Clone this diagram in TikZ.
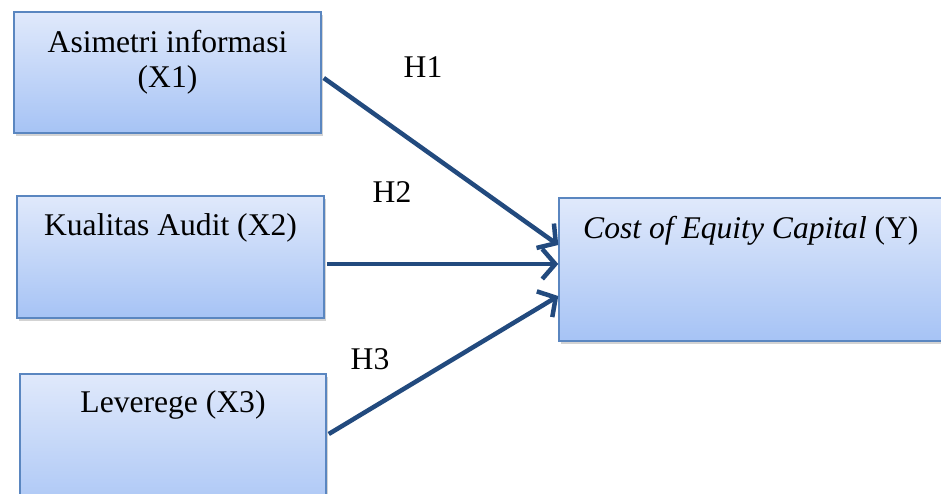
\documentclass[tikz,border=0pt]{standalone}
\usepackage{fontspec}
\setmainfont{Liberation Serif}
\usetikzlibrary{arrows.meta,shadows}
\definecolor{boxtop}{HTML}{E0E9FB}
\definecolor{boxbot}{HTML}{A6C3F5}
\definecolor{boxline}{HTML}{5A86C0}
\definecolor{arr}{HTML}{224A7E}
\tikzset{
  box/.style={draw=boxline, line width=1.5pt, top color=boxtop, bottom color=boxbot,
    drop shadow={opacity=0.35, shadow xshift=2pt, shadow yshift=-3pt}, inner sep=0pt},
  txt/.style={anchor=base, inner sep=0pt, font=\fontsize{31.6}{38}\selectfont},
  link/.style={draw=arr, line width=4.5pt, -{Straight Barb[length=13pt,width=30pt]}}
}
\begin{document}
\begin{tikzpicture}[x=1pt,y=-1pt]
\useasboundingbox (0,0) rectangle (941,494);
\node[box, minimum width=307pt, minimum height=121pt] (x1) at (167.5,72.5) {};
\node[box, minimum width=307pt, minimum height=122pt] (x2) at (170.5,257) {};
\node[box, minimum width=306pt, minimum height=150pt] (x3) at (173,449) {};
\node[box, minimum width=400pt, minimum height=143pt] (y) at (759,269.5) {};
\node[txt] (t1a) at (167.5,53) {Asimetri informasi};
\node[txt] (t1b) at (167.5,88) {(X1)};
\node[txt] (t2) at (170.5,236) {Kualitas Audit (X2)};
\node[txt] (t3) at (173,412) {Leverege (X3)};
\node[txt, anchor=base west] (ty) at (583,238) {\textit{Cost of Equity Capital} (Y)};
\node[txt] (h1) at (423,78) {H1};
\node[txt] (h2) at (392,203) {H2};
\node[txt] (h3) at (370,369) {H3};
\draw[link] ([xshift=2pt,yshift=-5.5pt]x1.east) -- ([yshift=24.5pt]y.west);
\draw[link] ([xshift=2pt,yshift=-7pt]x2.east) -- ([yshift=5.5pt]y.west);
\draw[link] ([xshift=2pt,yshift=15pt]x3.east) -- ([yshift=-26.5pt]y.west);
\end{tikzpicture}
\end{document}
